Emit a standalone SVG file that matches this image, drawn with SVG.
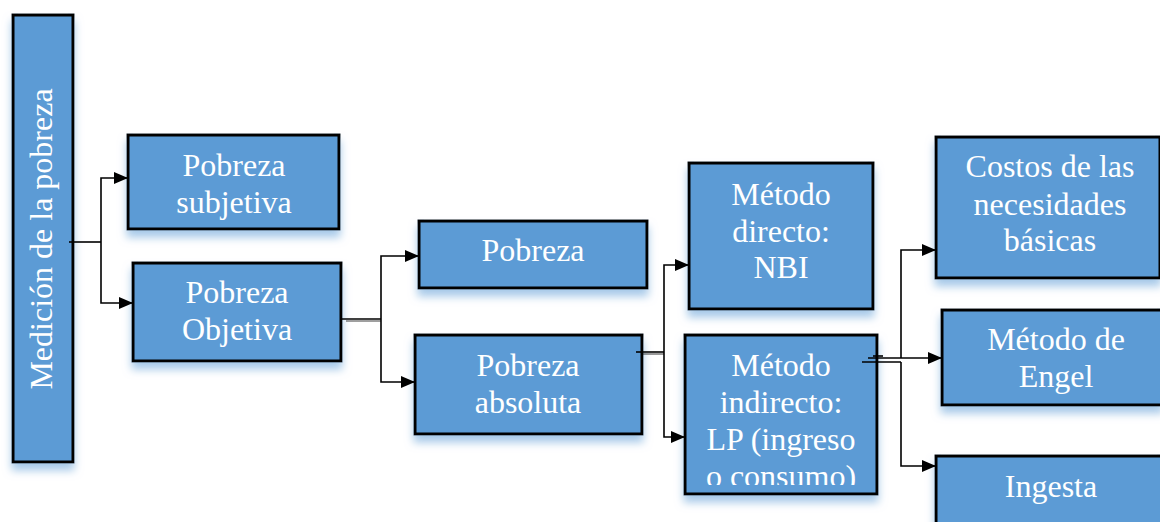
<svg xmlns="http://www.w3.org/2000/svg" width="1160" height="522" viewBox="0 0 1160 522">
  <style>
    .box { fill: #5b9bd5; stroke: #000; stroke-width: 3; filter: url(#glow); }
    .lbl { font-family: "Liberation Serif", "Times New Roman", serif; font-size: 32px; fill: #fff; text-anchor: middle; }
    .wire { fill: none; stroke: #000; stroke-width: 1.6; }
  </style>
  <defs>
    <!-- soft blue glow under each box -->
    <filter id="glow" x="-20%" y="-20%" width="140%" height="150%">
      <feGaussianBlur in="SourceAlpha" stdDeviation="4" result="b"/>
      <feOffset dy="7" result="o"/>
      <feFlood flood-color="#9dc3e6" flood-opacity="0.9"/>
      <feComposite in2="o" operator="in" result="s"/>
      <feMerge><feMergeNode in="s"/><feMergeNode in="SourceGraphic"/></feMerge>
    </filter>
    <marker id="arr" markerWidth="14" markerHeight="12" refX="14" refY="6" orient="auto" markerUnits="userSpaceOnUse">
      <path d="M0,0 L14,6 L0,12 Z" fill="#000"/>
    </marker>
    <clipPath id="clipIndirecto"><rect x="685" y="335" width="192" height="150"/></clipPath>
  </defs>

  <g id="medicion">
    <rect class="box" x="13" y="15" width="60" height="447"/>
    <text class="lbl" transform="translate(52,239) rotate(-90)">Medición de la pobreza</text>
  </g>

  <g id="subjetiva">
    <rect class="box" x="128" y="135" width="211" height="94"/>
    <text class="lbl" x="234" y="176">Pobreza</text>
    <text class="lbl" x="234" y="213">subjetiva</text>
  </g>

  <g id="objetiva">
    <rect class="box" x="133" y="263" width="208" height="98"/>
    <text class="lbl" x="237" y="303">Pobreza</text>
    <text class="lbl" x="237" y="340">Objetiva</text>
  </g>

  <g id="pobreza">
    <rect class="box" x="419" y="221" width="228" height="67"/>
    <text class="lbl" x="533" y="261">Pobreza</text>
  </g>

  <g id="absoluta">
    <rect class="box" x="415" y="335" width="227" height="99"/>
    <text class="lbl" x="528" y="376">Pobreza</text>
    <text class="lbl" x="528" y="413">absoluta</text>
  </g>

  <g id="directo">
    <rect class="box" x="689" y="163" width="184" height="146"/>
    <text class="lbl" x="781" y="205">Método</text>
    <text class="lbl" x="781" y="242">directo:</text>
    <text class="lbl" x="781" y="278">NBI</text>
  </g>

  <g id="indirecto">
    <rect class="box" x="685" y="335" width="192" height="159"/>
    <g clip-path="url(#clipIndirecto)">
      <text class="lbl" x="781" y="376">Método</text>
      <text class="lbl" x="781" y="413">indirecto:</text>
      <text class="lbl" x="781" y="450">LP (ingreso</text>
      <text class="lbl" x="781" y="487">o consumo)</text>
    </g>
  </g>

  <g id="costos">
    <rect class="box" x="936" y="137" width="224" height="141"/>
    <text class="lbl" x="1050" y="177">Costos de las</text>
    <text class="lbl" x="1050" y="215">necesidades</text>
    <text class="lbl" x="1050" y="251">básicas</text>
  </g>

  <g id="engel">
    <rect class="box" x="942" y="310" width="220" height="95"/>
    <text class="lbl" x="1056" y="350">Método de</text>
    <text class="lbl" x="1056" y="387">Engel</text>
  </g>

  <g id="ingesta">
    <rect class="box" x="936" y="456" width="226" height="80"/>
    <text class="lbl" x="1051" y="497">Ingesta</text>
  </g>

  <g id="connectors">
    <!-- Medición -> subjetiva / objetiva -->
    <path class="wire" d="M69,242 H101"/>
    <path class="wire" d="M101,242 V178 H128" marker-end="url(#arr)"/>
    <path class="wire" d="M101,242 V303 H133" marker-end="url(#arr)"/>
    <!-- Objetiva -> Pobreza / absoluta -->
    <path class="wire" d="M341,319 H381"/>
    <path class="wire" d="M346,321 H381" stroke-opacity="0.5"/>
    <path class="wire" d="M381,319 V256 H419" marker-end="url(#arr)"/>
    <path class="wire" d="M381,319 V382 H415" marker-end="url(#arr)"/>
    <!-- absoluta -> directo / indirecto -->
    <path class="wire" d="M636,352 H664"/>
    <path class="wire" d="M641,354 H664" stroke-opacity="0.5"/>
    <path class="wire" d="M664,352 V265 H689" marker-end="url(#arr)"/>
    <path class="wire" d="M664,352 V437 H685" marker-end="url(#arr)"/>
    <!-- indirecto -> costos / Engel / ingesta -->
    <path class="wire" d="M873,356 H883"/>
    <path class="wire" d="M868,358 H901"/>
    <path class="wire" d="M862,362 H901"/>
    <path class="wire" d="M901,358 V250 H936" marker-end="url(#arr)"/>
    <path class="wire" d="M901,358 H942" marker-end="url(#arr)"/>
    <path class="wire" d="M901,362 V466 H936" marker-end="url(#arr)"/>
  </g>
</svg>
